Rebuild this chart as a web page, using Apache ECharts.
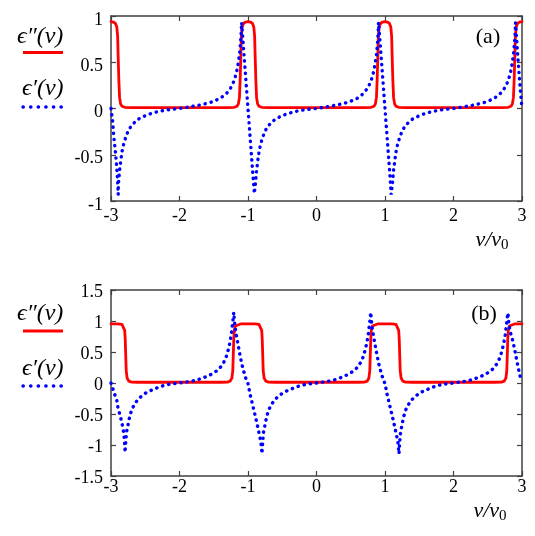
<!DOCTYPE html>
<html>
<head>
<meta charset="utf-8">
<script src="https://cdn.jsdelivr.net/npm/echarts@6/dist/echarts.min.js"></script>
<style>
  html, body { margin: 0; padding: 0; background: #fff; }
  #chart { width: 535px; height: 536px; }
</style>
</head>
<body>
<div id="chart"></div>
<script>
// panel (a): eps'' (red, solid) and eps' (blue, dotted)
const epsImA = [
  [-3, 0.94], [-2.965, 0.935], [-2.935, 0.92], [-2.915, 0.88], [-2.903, 0.78], [-2.895, 0.55], [-2.885, 0.3],
  [-2.875, 0.12], [-2.86, 0.05], [-2.84, 0.025], [-2.8, 0.013], [-2.7, 0.01], [-2.4, 0.01], [-2.0, 0.01],
  [-1.6, 0.01], [-1.3, 0.01], [-1.2, 0.013], [-1.16, 0.025], [-1.14, 0.05], [-1.125, 0.12], [-1.115, 0.3],
  [-1.105, 0.55], [-1.097, 0.78], [-1.085, 0.88], [-1.065, 0.92], [-1.035, 0.935], [-1, 0.94], [-0.965, 0.935],
  [-0.935, 0.92], [-0.915, 0.88], [-0.903, 0.78], [-0.895, 0.55], [-0.885, 0.3], [-0.875, 0.12], [-0.86, 0.05],
  [-0.84, 0.025], [-0.8, 0.013], [-0.7, 0.01], [-0.4, 0.01], [0, 0.01], [0.4, 0.01], [0.7, 0.01], [0.8, 0.013],
  [0.84, 0.025], [0.86, 0.05], [0.875, 0.12], [0.885, 0.3], [0.895, 0.55], [0.903, 0.78], [0.915, 0.88],
  [0.935, 0.92], [0.965, 0.935], [1, 0.94], [1.035, 0.935], [1.065, 0.92], [1.085, 0.88], [1.097, 0.78],
  [1.105, 0.55], [1.115, 0.3], [1.125, 0.12], [1.14, 0.05], [1.16, 0.025], [1.2, 0.013], [1.3, 0.01],
  [1.6, 0.01], [2.0, 0.01], [2.4, 0.01], [2.7, 0.01], [2.8, 0.013], [2.84, 0.025], [2.86, 0.05], [2.875, 0.12],
  [2.885, 0.3], [2.895, 0.55], [2.903, 0.78], [2.915, 0.88], [2.935, 0.92], [2.965, 0.935], [3, 0.94]
];
const epsReA = [
  [-3, 0], [-2.977, -0.13], [-2.958, -0.31], [-2.938, -0.45], [-2.919, -0.61], [-2.905, -0.76], [-2.897, -0.88], [-2.895, -0.93],
  [-2.89, -0.8], [-2.875, -0.67], [-2.855, -0.55], [-2.835, -0.45], [-2.81, -0.37], [-2.78, -0.3], [-2.745, -0.235],
  [-2.7, -0.185], [-2.65, -0.145], [-2.59, -0.11], [-2.52, -0.085], [-2.45, -0.063], [-2.37, -0.045], [-2.3, -0.031],
  [-2.22, -0.02], [-2.15, -0.012], [-2.07, -0.005], [-2, 0],
  [-1.93, 0.008], [-1.85, 0.018], [-1.78, 0.028], [-1.7, 0.038], [-1.63, 0.05], [-1.55, 0.065], [-1.48, 0.085],
  [-1.41, 0.108], [-1.35, 0.14], [-1.3, 0.175], [-1.255, 0.22], [-1.22, 0.27], [-1.19, 0.33], [-1.165, 0.4],
  [-1.145, 0.48], [-1.125, 0.58], [-1.11, 0.7], [-1.1, 0.82], [-1.093, 0.93],
  [-1.07, 0.7], [-1.045, 0.45], [-1.02, 0.2], [-1, 0], [-0.98, -0.2], [-0.955, -0.45], [-0.93, -0.7], [-0.907, -0.92],
  [-0.89, -0.8], [-0.875, -0.67], [-0.855, -0.55], [-0.835, -0.45], [-0.81, -0.37], [-0.78, -0.3], [-0.745, -0.235],
  [-0.7, -0.185], [-0.65, -0.145], [-0.59, -0.11], [-0.52, -0.085], [-0.45, -0.063], [-0.37, -0.045], [-0.3, -0.031],
  [-0.22, -0.02], [-0.15, -0.012], [-0.07, -0.005], [0, 0],
  [0.07, 0.008], [0.15, 0.018], [0.22, 0.028], [0.3, 0.038], [0.37, 0.05], [0.45, 0.065], [0.52, 0.085],
  [0.59, 0.108], [0.65, 0.14], [0.7, 0.175], [0.745, 0.22], [0.78, 0.27], [0.81, 0.33], [0.835, 0.4],
  [0.855, 0.48], [0.875, 0.58], [0.89, 0.7], [0.9, 0.82], [0.905, 0.93],
  [0.93, 0.7], [0.955, 0.45], [0.98, 0.2], [1, 0], [1.02, -0.2], [1.045, -0.45], [1.07, -0.7], [1.09, -0.93],
  [1.11, -0.8], [1.125, -0.67], [1.145, -0.55], [1.165, -0.45], [1.19, -0.37], [1.22, -0.3], [1.255, -0.235],
  [1.3, -0.185], [1.35, -0.145], [1.41, -0.11], [1.48, -0.085], [1.55, -0.063], [1.63, -0.045], [1.7, -0.031],
  [1.78, -0.02], [1.85, -0.012], [1.93, -0.005], [2, 0],
  [2.07, 0.008], [2.15, 0.018], [2.22, 0.028], [2.3, 0.038], [2.37, 0.05], [2.45, 0.065], [2.52, 0.085],
  [2.59, 0.108], [2.65, 0.14], [2.7, 0.175], [2.745, 0.22], [2.78, 0.27], [2.81, 0.33], [2.835, 0.4],
  [2.855, 0.48], [2.875, 0.58], [2.89, 0.7], [2.9, 0.82], [2.905, 0.93],
  [2.93, 0.66], [2.955, 0.4], [2.978, 0.18], [3, 0]
];

// panel (b)
const epsImB = [
  [-3, 0.955], [-2.9, 0.955], [-2.84, 0.945], [-2.815, 0.92], [-2.8, 0.85], [-2.792, 0.7], [-2.785, 0.45],
  [-2.778, 0.2], [-2.765, 0.08], [-2.74, 0.03], [-2.7, 0.015], [-2.6, 0.012], [-2.2, 0.012], [-1.8, 0.012],
  [-1.4, 0.012], [-1.3, 0.015], [-1.26, 0.03], [-1.235, 0.08], [-1.222, 0.2], [-1.215, 0.45], [-1.208, 0.7],
  [-1.2, 0.85], [-1.185, 0.92], [-1.16, 0.945], [-1.1, 0.955], [-1, 0.955], [-0.9, 0.955], [-0.84, 0.945],
  [-0.815, 0.92], [-0.8, 0.85], [-0.792, 0.7], [-0.785, 0.45], [-0.778, 0.2], [-0.765, 0.08], [-0.74, 0.03],
  [-0.7, 0.015], [-0.6, 0.012], [-0.2, 0.012], [0.2, 0.012], [0.6, 0.012], [0.7, 0.015], [0.74, 0.03],
  [0.765, 0.08], [0.778, 0.2], [0.785, 0.45], [0.792, 0.7], [0.8, 0.85], [0.815, 0.92], [0.84, 0.945],
  [0.9, 0.955], [1, 0.955], [1.1, 0.955], [1.16, 0.945], [1.185, 0.92], [1.2, 0.85], [1.208, 0.7],
  [1.215, 0.45], [1.222, 0.2], [1.235, 0.08], [1.26, 0.03], [1.3, 0.015], [1.4, 0.012], [1.8, 0.012],
  [2.2, 0.012], [2.6, 0.012], [2.7, 0.015], [2.74, 0.03], [2.765, 0.08], [2.778, 0.2], [2.785, 0.45],
  [2.792, 0.7], [2.8, 0.85], [2.815, 0.92], [2.84, 0.945], [2.9, 0.955], [3, 0.955]
];
const epsReB = [
  [-3, 0], [-2.95, -0.17], [-2.915, -0.28], [-2.9, -0.39], [-2.876, -0.49], [-2.85, -0.6], [-2.828, -0.71],
  [-2.813, -0.82], [-2.803, -0.93], [-2.795, -1.12],
  [-2.785, -0.95], [-2.773, -0.79], [-2.752, -0.68], [-2.729, -0.55], [-2.7, -0.44], [-2.665, -0.36], [-2.617, -0.28],
  [-2.568, -0.225], [-2.504, -0.17], [-2.446, -0.134], [-2.373, -0.1], [-2.3, -0.066], [-2.227, -0.04],
  [-2.155, -0.022], [-2.075, -0.01], [-2, 0],
  [-1.912, 0.014], [-1.815, 0.03], [-1.742, 0.05], [-1.669, 0.077], [-1.596, 0.108], [-1.523, 0.148], [-1.45, 0.2],
  [-1.402, 0.255], [-1.353, 0.335], [-1.319, 0.42], [-1.29, 0.53], [-1.266, 0.64], [-1.246, 0.77], [-1.232, 0.9],
  [-1.217, 1.04], [-1.208, 1.14],
  [-1.192, 0.93], [-1.17, 0.77], [-1.137, 0.57], [-1.112, 0.42], [-1.087, 0.29], [-1.06, 0.18], [-1.03, 0.07],
  [-1, -0.01], [-0.97, -0.18], [-0.94, -0.32], [-0.91, -0.46], [-0.88, -0.6], [-0.85, -0.75], [-0.825, -0.88],
  [-0.81, -0.97], [-0.796, -1.14],
  [-0.785, -0.95], [-0.773, -0.79], [-0.752, -0.68], [-0.729, -0.55], [-0.7, -0.44], [-0.665, -0.36], [-0.617, -0.28],
  [-0.568, -0.225], [-0.504, -0.17], [-0.446, -0.134], [-0.373, -0.1], [-0.3, -0.066], [-0.227, -0.04],
  [-0.155, -0.022], [-0.075, -0.01], [0, 0],
  [0.088, 0.014], [0.185, 0.03], [0.258, 0.05], [0.331, 0.077], [0.404, 0.108], [0.477, 0.148], [0.55, 0.2],
  [0.598, 0.255], [0.647, 0.335], [0.681, 0.42], [0.71, 0.53], [0.734, 0.64], [0.754, 0.77], [0.768, 0.9],
  [0.783, 1.04], [0.792, 1.14],
  [0.808, 0.93], [0.83, 0.77], [0.863, 0.57], [0.888, 0.42], [0.913, 0.29], [0.94, 0.18], [0.97, 0.07],
  [1, -0.01], [1.03, -0.18], [1.06, -0.32], [1.09, -0.46], [1.12, -0.6], [1.15, -0.75], [1.175, -0.88],
  [1.19, -0.97], [1.204, -1.14],
  [1.215, -0.95], [1.227, -0.79], [1.248, -0.68], [1.271, -0.55], [1.3, -0.44], [1.335, -0.36], [1.383, -0.28],
  [1.432, -0.225], [1.496, -0.17], [1.554, -0.134], [1.627, -0.1], [1.7, -0.066], [1.773, -0.04],
  [1.845, -0.022], [1.925, -0.01], [2, 0],
  [2.088, 0.014], [2.185, 0.03], [2.258, 0.05], [2.331, 0.077], [2.404, 0.108], [2.477, 0.148], [2.55, 0.2],
  [2.598, 0.255], [2.647, 0.335], [2.681, 0.42], [2.71, 0.53], [2.734, 0.64], [2.754, 0.77], [2.768, 0.9],
  [2.783, 1.04], [2.795, 1.13],
  [2.81, 0.93], [2.835, 0.8], [2.87, 0.66], [2.9, 0.5], [2.94, 0.27], [2.97, 0.12], [3, 0.02]
];

const xRange = [-3, 3];
const yRangeA = [-1, 1];
const yRangeB = [-1.5, 1.5];

const serif = '"Liberation Serif", "DejaVu Serif", "Times New Roman", serif';
const frame = '#404040';
const red = '#ff0000';
const blue = '#0000ff';

const chart = echarts.init(document.getElementById('chart'), null, { renderer: 'canvas' });

const grids = [
  { left: 111, right: 13, top: 16, height: 185 },
  { left: 111, right: 13, top: 290, height: 186 }
];

function xAx(gi, pos, margin) {
  return {
    gridIndex: gi, type: 'value', position: pos,
    min: xRange[0], max: xRange[1], interval: 1,
    axisLine: { show: true, onZero: false, lineStyle: { color: frame, width: 1.5 } },
    axisTick: { show: true, inside: true, length: 5, lineStyle: { color: frame, width: 1.2 } },
    splitLine: { show: false },
    axisLabel: { show: pos === 'bottom', color: '#000', fontFamily: serif, fontSize: 18, margin: margin }
  };
}
// shift: how far the label centre sits below its tick, as in the reference
function yAx(gi, pos, range, shift) {
  return {
    gridIndex: gi, type: 'value', position: pos,
    min: range[0], max: range[1], interval: 0.5,
    axisLine: { show: true, onZero: false, lineStyle: { color: frame, width: 1.5 } },
    axisTick: { show: true, inside: true, length: 5, lineStyle: { color: frame, width: 1.2 } },
    splitLine: { show: false },
    axisLabel: {
      show: pos === 'left', color: '#000', fontFamily: serif, fontSize: 18, margin: 8,
      verticalAlign: 'top', lineHeight: shift * 2
    }
  };
}

const solid = { color: red, width: 2.8, join: 'round', cap: 'round' };
const dotted = { color: blue, width: 3.4, type: [0.3, 5.9], cap: 'round' };

function legendText(x, y, txt) {
  return { type: 'text', x: x, y: y, style: { text: txt, font: 'italic 24px ' + serif, fill: '#000', align: 'left', verticalAlign: 'middle' } };
}
function nuLabel(x, y) {
  return {
    type: 'text', x: x, y: y,
    style: {
      text: '{n|ν/ν}{s|0}', align: 'center', verticalAlign: 'middle', fill: '#000',
      rich: {
        n: { font: 'italic 22px ' + serif, fill: '#000' },
        s: { font: '15px ' + serif, fill: '#000', padding: [10, 0, 0, 0] }
      }
    }
  };
}

chart.setOption({
  animation: false,
  backgroundColor: '#fff',
  grid: grids,
  xAxis: [xAx(0, 'bottom', 6), xAx(0, 'top', 0), xAx(1, 'bottom', 2), xAx(1, 'top', 0)],
  yAxis: [yAx(0, 'left', yRangeA, 4), yAx(0, 'right', yRangeA, 4), yAx(1, 'left', yRangeB, 2), yAx(1, 'right', yRangeB, 2)],
  series: [
    { name: 'epsImA', type: 'line', xAxisIndex: 0, yAxisIndex: 0, data: epsImA, symbol: 'none', lineStyle: solid },
    { name: 'epsReA', type: 'line', xAxisIndex: 0, yAxisIndex: 0, data: epsReA, symbol: 'none', lineStyle: dotted },
    { name: 'epsImB', type: 'line', xAxisIndex: 2, yAxisIndex: 2, data: epsImB, symbol: 'none', lineStyle: solid },
    { name: 'epsReB', type: 'line', xAxisIndex: 2, yAxisIndex: 2, data: epsReB, symbol: 'none', lineStyle: dotted }
  ],
  graphic: [
    legendText(17, 37, 'ϵ″(ν)'),
    { type: 'line', shape: { x1: 23, y1: 52.5, x2: 63, y2: 52.5 }, style: { stroke: red, lineWidth: 2.8 } },
    legendText(22, 89, 'ϵ′(ν)'),
    { type: 'line', shape: { x1: 23, y1: 107, x2: 61.5, y2: 107 }, style: { stroke: blue, lineWidth: 3.4, lineDash: [0.3, 7.3], lineCap: 'round' } },
    { type: 'text', x: 488, y: 37, style: { text: '(a)', font: '22px ' + serif, fill: '#000', align: 'center', verticalAlign: 'middle' } },
    nuLabel(492, 240),

    legendText(17, 314, 'ϵ″(ν)'),
    { type: 'line', shape: { x1: 23, y1: 331, x2: 63, y2: 331 }, style: { stroke: red, lineWidth: 2.8 } },
    legendText(22, 369, 'ϵ′(ν)'),
    { type: 'line', shape: { x1: 23, y1: 386, x2: 61.5, y2: 386 }, style: { stroke: blue, lineWidth: 3.4, lineDash: [0.3, 7.3], lineCap: 'round' } },
    { type: 'text', x: 484, y: 314, style: { text: '(b)', font: '22px ' + serif, fill: '#000', align: 'center', verticalAlign: 'middle' } },
    nuLabel(490, 511)
  ]
});
</script>
</body>
</html>
